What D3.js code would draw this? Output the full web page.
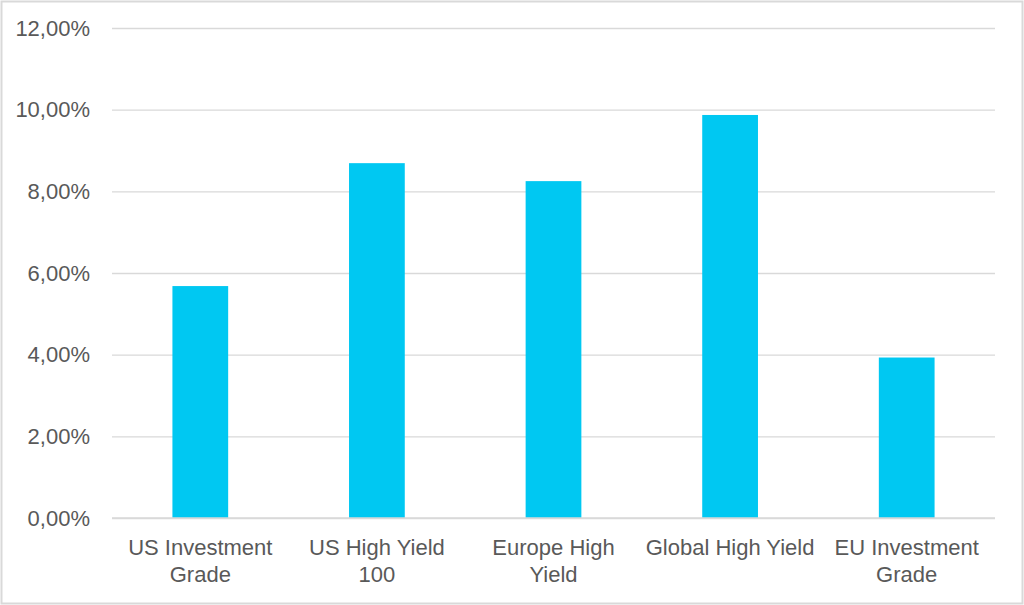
<!DOCTYPE html>
<html>
<head>
<meta charset="utf-8">
<script src="https://cdn.jsdelivr.net/npm/d3@7"></script>
<style>
  body { margin: 0; background: #fff; }
  svg text { font-family: "Liberation Sans", Arial, sans-serif; fill: #595959; }
</style>
</head>
<body>
<div id="chart"></div>
<script>
// categories, each split into the lines shown under the axis
const categories = ["US Investment Grade", "US High Yield 100", "Europe High Yield", "Global High Yield", "EU Investment Grade"];
const categoryLines = [["US Investment", "Grade"], ["US High Yield", "100"], ["Europe High", "Yield"], ["Global High Yield"], ["EU Investment", "Grade"]];
const values = [5.68, 8.69, 8.25, 9.87, 3.93];
const yTicks = [0, 2, 4, 6, 8, 10, 12];

const width = 1024,
  height = 605,
  padLeft = 112,
  padRight = 29,
  padTop = 28,
  padBtm = 87;

const svg = d3.select("#chart")
  .append("svg")
  .attr("width", width)
  .attr("height", height);

// outer frame
svg.append("rect")
  .attr("x", 1.5)
  .attr("y", 1.5)
  .attr("width", width - 3)
  .attr("height", height - 3)
  .attr("fill", "none")
  .attr("stroke", "#d9d9d9")
  .attr("stroke-width", 2);

const xScale = d3.scaleBand()
  .domain(categories)
  .range([padLeft, width - padRight])
  .paddingInner(0.69)
  .paddingOuter(0.345);

const yScale = d3.scaleLinear()
  .domain([0, 12])
  .range([height - padBtm, padTop]);

// gridlines + y labels
const yAxis = svg.append("g")
  .attr("class", "y axis")
  .attr("transform", "translate(" + padLeft + ",0)")
  .call(d3.axisLeft(yScale)
    .tickValues(yTicks)
    .tickSize(-(width - padLeft - padRight))
    .tickPadding(22)
    .tickFormat(d => d.toFixed(2).replace(".", ",") + "%"));
yAxis.select(".domain").remove();
yAxis.selectAll("line").attr("stroke", "#d9d9d9").attr("stroke-width", 1.3);
yAxis.selectAll("text").style("font-size", "22px");

// bars
svg.append("g")
  .selectAll("rect")
  .data(values)
  .enter()
  .append("rect")
  .attr("x", (d, i) => xScale(categories[i]) - 0.5)
  .attr("y", d => yScale(d))
  .attr("width", xScale.bandwidth() + 1)
  .attr("height", d => yScale(0) - yScale(d))
  .attr("fill", "#00c8f2");

// baseline drawn over bars
svg.append("line")
  .attr("x1", padLeft)
  .attr("x2", width - padRight)
  .attr("y1", yScale(0))
  .attr("y2", yScale(0))
  .attr("stroke", "#d9d9d9")
  .attr("stroke-width", 1.3);

// category labels
const labels = svg.append("g")
  .selectAll("text")
  .data(categories)
  .enter()
  .append("text")
  .attr("text-anchor", "middle")
  .attr("x", d => xScale(d) + xScale.bandwidth() / 2)
  .attr("y", yScale(0) + 37)
  .style("font-size", "22px");

labels.each(function(d, i) {
  d3.select(this).selectAll("tspan")
    .data(categoryLines[i])
    .enter()
    .append("tspan")
    .attr("x", xScale(d) + xScale.bandwidth() / 2)
    .attr("dy", (t, j) => j === 0 ? 0 : 27)
    .text(t => t);
});
</script>
</body>
</html>
